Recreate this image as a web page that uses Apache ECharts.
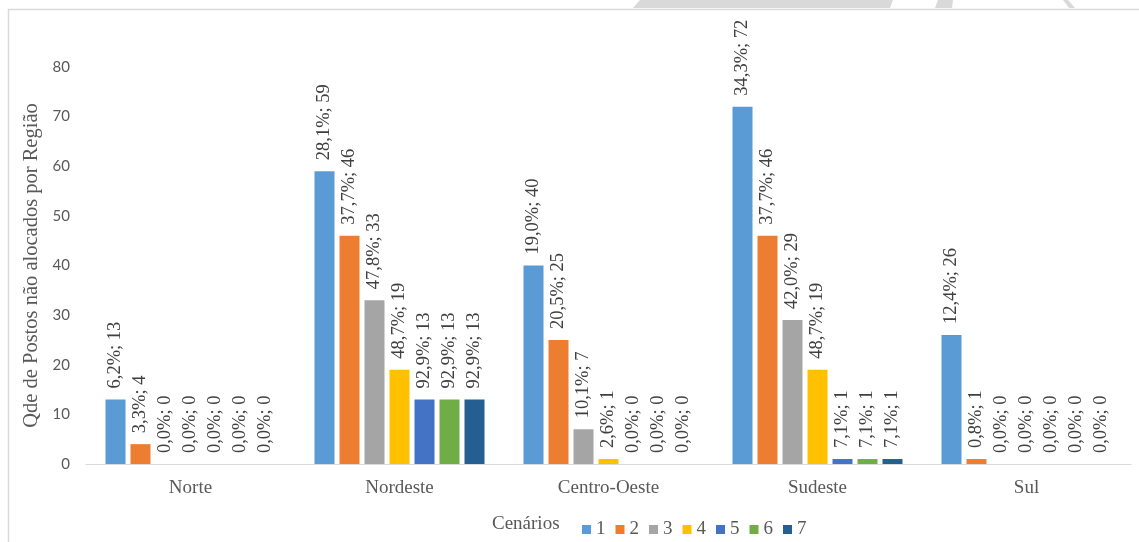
<!DOCTYPE html>
<html><head><meta charset="utf-8">
<script src="https://cdn.jsdelivr.net/npm/echarts@6/dist/echarts.min.js"></script>
<style>html,body{margin:0;padding:0;background:#fff;}#c{width:1139px;height:542px;}</style>
</head><body><div id="c"></div>
<script>
const categories = ['Norte', 'Nordeste', 'Centro-Oeste', 'Sudeste', 'Sul'];
const seriesNames = ['1', '2', '3', '4', '5', '6', '7'];
const s1 = [13, 59, 40, 72, 26];
const s2 = [4, 46, 25, 46, 1];
const s3 = [0, 33, 7, 29, 0];
const s4 = [0, 19, 1, 19, 0];
const s5 = [0, 13, 0, 1, 0];
const s6 = [0, 13, 0, 1, 0];
const s7 = [0, 13, 0, 1, 0];
const p1 = ['6,2%', '28,1%', '19,0%', '34,3%', '12,4%'];
const p2 = ['3,3%', '37,7%', '20,5%', '37,7%', '0,8%'];
const p3 = ['0,0%', '47,8%', '10,1%', '42,0%', '0,0%'];
const p4 = ['0,0%', '48,7%', '2,6%', '48,7%', '0,0%'];
const p5 = ['0,0%', '92,9%', '0,0%', '7,1%', '0,0%'];
const p6 = ['0,0%', '92,9%', '0,0%', '7,1%', '0,0%'];
const p7 = ['0,0%', '92,9%', '0,0%', '7,1%', '0,0%'];
const yTicks = [0, 10, 20, 30, 40, 50, 60, 70, 80];
const colors = ['#5B9BD5', '#ED7D31', '#A5A5A5', '#FFC000', '#4472C4', '#70AD47', '#255E91'];

const values = [s1, s2, s3, s4, s5, s6, s7];
const pcts = [p1, p2, p3, p4, p5, p6, p7];
const serif = 'Liberation Serif';

const chart = echarts.init(document.getElementById('c'), null, {renderer: 'canvas'});
chart.setOption({
  animation: false,
  backgroundColor: '#fff',
  color: colors,
  grid: {left: 86, right: 8, top: 67, bottom: 78, containLabel: false},
  legend: {
    data: seriesNames,
    left: 577, top: 515,
    icon: 'rect', itemWidth: 9, itemHeight: 9, itemGap: 10,
    textStyle: {fontFamily: serif, fontSize: 19, color: '#595959'}
  },
  xAxis: {
    type: 'category', data: categories,
    axisLine: {lineStyle: {color: '#d9d9d9', width: 1}},
    axisTick: {show: false},
    axisLabel: {fontFamily: serif, fontSize: 19, color: '#595959', margin: 15}
  },
  yAxis: {
    type: 'value', min: yTicks[0], max: yTicks[yTicks.length - 1], interval: 10,
    name: 'Qde de Postos não alocados por Região',
    nameLocation: 'middle', nameGap: 41,
    nameTextStyle: {fontFamily: serif, fontSize: 20.5, color: '#595959'},
    axisLine: {show: false}, axisTick: {show: false},
    splitLine: {show: false},
    axisLabel: {fontFamily: 'Lato', fontSize: 15, color: '#595959', margin: 16}
  },
  series: values.map((v, i) => ({
    name: seriesNames[i], type: 'bar', data: v,
    barWidth: 20, barGap: '25%',
    label: {
      show: true, position: 'top', rotate: 90, align: 'left', verticalAlign: 'middle',
      distance: 11, fontFamily: serif, fontSize: 18.5, color: '#404040',
      formatter: (p) => pcts[i][p.dataIndex] + '; ' + p.value
    }
  })),
  graphic: [
    {type: 'polygon', shape: {points: [[640, 0], [893, 0], [890, 8], [633, 8]]}, style: {fill: '#d9d9d9'}, silent: true},
    {type: 'polygon', shape: {points: [[938, 0], [953, 0], [952, 8], [935, 8]]}, style: {fill: '#d9d9d9'}, silent: true},
    {type: 'polygon', shape: {points: [[1063, 0], [1068, 0], [1075, 8], [1069, 8]]}, style: {fill: '#d9d9d9'}, silent: true},
    {type: 'line', shape: {x1: 8, y1: 9.5, x2: 1139, y2: 9.5}, style: {stroke: '#d9d9d9', lineWidth: 1.5}, silent: true},
    {type: 'line', shape: {x1: 8.5, y1: 9, x2: 8.5, y2: 542}, style: {stroke: '#d9d9d9', lineWidth: 1.5}, silent: true},
    {type: 'text', left: 492, top: 515, style: {text: 'Cenários', font: '19px "Liberation Serif"', fill: '#595959'}, silent: true}
  ]
});
</script></body></html>
